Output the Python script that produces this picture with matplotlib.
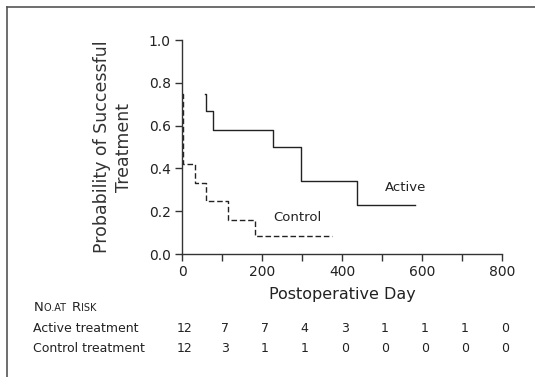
import matplotlib
matplotlib.use("Agg")
import matplotlib.pyplot as plt
from matplotlib.lines import Line2D
import matplotlib.transforms as mtransforms

# Kaplan-Meier estimates
active_days = [57, 60, 78, 228, 298, 438, 583]
active_surv = [0.75, 0.67, 0.58, 0.50, 0.34, 0.23, 0.23]

control_days = [0, 3, 33, 60, 115, 182, 375]
control_surv = [0.75, 0.42, 0.33, 0.25, 0.16, 0.085, 0.085]

risk_days = [0, 100, 200, 300, 400, 500, 600, 700, 800]
risk_active = [12, 7, 7, 4, 3, 1, 1, 1, 0]
risk_control = [12, 3, 1, 1, 0, 0, 0, 0, 0]

W, H = 535, 377
fig = plt.figure(figsize=(W / 100, H / 100), dpi=100)
plt.rcParams['font.family'] = ['DejaVu Sans']

def fy(py):
    return 1 - py / H

ax = fig.add_axes([182 / W, fy(254), (502 - 182) / W, (254 - 40) / H])

# step curves
ax.step(active_days, active_surv, where='post', color='#222222', lw=1.0)
ax.step(control_days, control_surv, where='post', color='#222222', lw=1.0,
        linestyle=(0, (4, 2)))

ax.set_xlim(0, 800)
ax.set_ylim(0, 1.0)
ax.set_xticks(range(0, 801, 200))
ax.set_xticks(range(100, 800, 200), minor=True)
ax.set_yticks([0, 0.2, 0.4, 0.6, 0.8, 1.0])
ax.set_yticklabels(['0.0', '0.2', '0.4', '0.6', '0.8', '1.0'])
for s in ['top', 'right']:
    ax.spines[s].set_visible(False)
for s in ['left', 'bottom']:
    ax.spines[s].set_linewidth(1.0)
    ax.spines[s].set_color('#333333')
ax.tick_params(which='both', direction='out', length=5, width=1, color='#333333',
               labelsize=10, labelcolor='#222222', pad=3)

ax.set_xlabel('Postoperative Day', fontsize=11.5, color='#222222', labelpad=6)
fig.text(113 / W, fy(147), 'Probability of Successful\nTreatment', rotation=90,
         ha='center', va='center', fontsize=12.5, color='#333333', linespacing=1.25)

ax.text(507, 0.31, 'Active', fontsize=9.5, va='center', color='#222222')
ax.text(228, 0.17, 'Control', fontsize=9.5, va='center', color='#222222')

# number at risk table
def small_caps(x0, py, parts):
    x = x0
    r = fig.canvas.get_renderer()
    for txt, size in parts:
        t = fig.text(x / W, fy(py), txt, fontsize=size, va='baseline', ha='left', color='#222222')
        bb = t.get_window_extent(renderer=r)
        x += bb.width + (3 if txt.endswith(' ') else 0)

small_caps(34, 311, [('N', 9.5), ('O.AT ', 7), ('R', 9.5), ('ISK', 7)])

blend = mtransforms.blended_transform_factory(ax.transData, fig.transFigure)
fig.text(33 / W, fy(328), 'Active treatment', fontsize=9, va='center', color='#222222')
fig.text(33 / W, fy(348), 'Control treatment', fontsize=9, va='center', color='#222222')
for d, a, c in zip(risk_days, risk_active, risk_control):
    ax.text(d + 7, fy(328), str(a), transform=blend, fontsize=9, ha='center', va='center', color='#222222')
    ax.text(d + 7, fy(348), str(c), transform=blend, fontsize=9, ha='center', va='center', color='#222222')

# frame lines at top and left of the scan
fig.add_artist(Line2D([7 / W, 1], [fy(7), fy(7)], transform=fig.transFigure, color='#555555', lw=1.2))
fig.add_artist(Line2D([7 / W, 7 / W], [fy(7), 0], transform=fig.transFigure, color='#555555', lw=1.2))

fig.savefig('out.png', dpi=100)
